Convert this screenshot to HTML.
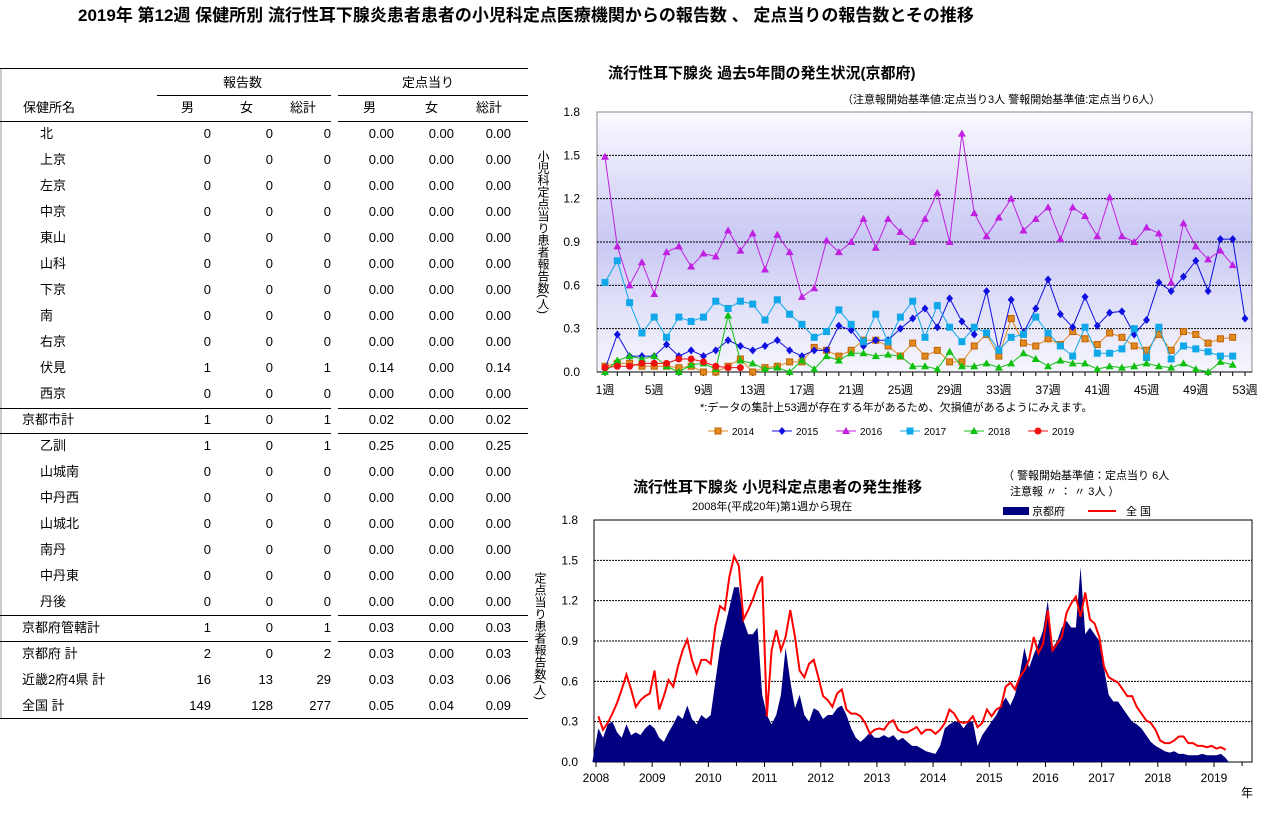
<!DOCTYPE html>
<html><head><meta charset="utf-8">
<style>
body{margin:0;width:1272px;height:823px;background:#fff;position:relative;overflow:hidden;font-family:"Liberation Sans","Noto Sans CJK JP",sans-serif;color:#000}
.t{position:absolute;white-space:nowrap;font-size:13px;line-height:14px}
.r{text-align:right}
.hl{position:absolute;height:1px;background:#000}
svg text{font-family:"Liberation Sans","Noto Sans CJK JP",sans-serif}
</style></head><body>
<div class="t" style="left:78px;top:6px;font-size:17px;line-height:20px;font-weight:bold">2019年 第12週 保健所別 流行性耳下腺炎患者患者の小児科定点医療機関からの報告数 、 定点当りの報告数とその推移</div>

<div id="tbl"></div>

<svg id="top" width="1272" height="823" style="position:absolute;left:0;top:0"></svg>

<script>
const rowNames=["北","上京","左京","中京","東山","山科","下京","南","右京","伏見","西京","京都市計","乙訓","山城南","中丹西","山城北","南丹","中丹東","丹後","京都府管轄計","京都府 計","近畿2府4県 計","全国 計"];
const rowIndent=[1,1,1,1,1,1,1,1,1,1,1,0,1,1,1,1,1,1,1,0,0,0,0];
const rowMale=[0,0,0,0,0,0,0,0,0,1,0,1,1,0,0,0,0,0,0,1,2,16,149];
const rowFemale=[0,0,0,0,0,0,0,0,0,0,0,0,0,0,0,0,0,0,0,0,0,13,128];
const rowTotal=[0,0,0,0,0,0,0,0,0,1,0,1,1,0,0,0,0,0,0,1,2,29,277];
const rowPerM=["0.00","0.00","0.00","0.00","0.00","0.00","0.00","0.00","0.00","0.14","0.00","0.02","0.25","0.00","0.00","0.00","0.00","0.00","0.00","0.03","0.03","0.03","0.05"];
const rowPerF=["0.00","0.00","0.00","0.00","0.00","0.00","0.00","0.00","0.00","0.00","0.00","0.00","0.00","0.00","0.00","0.00","0.00","0.00","0.00","0.00","0.00","0.03","0.04"];
const rowPerT=["0.00","0.00","0.00","0.00","0.00","0.00","0.00","0.00","0.00","0.14","0.00","0.02","0.25","0.00","0.00","0.00","0.00","0.00","0.00","0.03","0.03","0.06","0.09"];
const tbl=document.getElementById('tbl');
function addText(txt,x,y,right,name){
  const d=document.createElement('div');
  d.className='t'+(right?' r':'');
  d.textContent=txt;
  
  
  if(right){d.style.left=(x-80)+'px';d.style.width='80px';}else d.style.left=x+'px';
  d.style.top=(y-7)+'px';
  tbl.appendChild(d);
}
function hline(x1,x2,y,name){
  const d=document.createElement('div');d.className='hl';
  
  
  d.style.left=x1+'px';d.style.width=(x2-x1)+'px';d.style.top=y+'px';tbl.appendChild(d);
}
const lb=document.createElement('div');


lb.style.cssText='position:absolute;left:0;top:68px;width:2px;height:650px;background:#ccc';tbl.appendChild(lb);
hline(0,528,68,'table-top-rule');
hline(157,331,95,'report-group-rule');hline(338,528,95,'per-site-group-rule');
hline(0,331,121,'header-rule-left');hline(338,528,121,'header-rule-right');
hline(0,331,408,'city-rule-top-left');hline(338,528,408,'city-rule-top-right');
hline(0,331,433,'city-rule-bottom-left');hline(338,528,433,'city-rule-bottom-right');
hline(0,331,615,'pref-rule-top-left');hline(338,528,615,'pref-rule-top-right');
hline(0,331,641,'pref-rule-bottom-left');hline(338,528,641,'pref-rule-bottom-right');
hline(0,528,718,'table-bottom-rule');
addText('報告数',223,83,false,'report-count-header');
addText('定点当り',402,83,false,'per-site-header');
addText('保健所名',23,108,false,'health-center-header');
addText('男',181,108,false,'male-header');addText('女',240,108,false,'female-header');addText('総計',290,108,false,'total-header');
addText('男',363,108,false,'per-male-header');addText('女',425,108,false,'per-female-header');addText('総計',476,108,false,'per-total-header');
rowNames.forEach((n,i)=>{
  const y=134+i*26;
  addText(n,rowIndent[i]?40:22,y,false,'row-name');
  addText(String(rowMale[i]),211,y,true,'male-count');
  addText(String(rowFemale[i]),273,y,true,'female-count');
  addText(String(rowTotal[i]),331,y,true,'total-count');
  addText(rowPerM[i],394,y,true,'male-per-site');
  addText(rowPerF[i],454,y,true,'female-per-site');
  addText(rowPerT[i],511,y,true,'total-per-site');
});
</script>

<script>
const yearLabels=["2014","2015","2016","2017","2018","2019"];
const s2014=[0.04,0.06,0.06,0.04,0.04,0.04,0.03,0.04,0,0,0.04,0.09,0,0.03,0.04,0.07,0.07,0.17,0.15,0.11,0.15,0.22,0.22,0.18,0.11,0.20,0.11,0.15,0.07,0.07,0.18,0.26,0.11,0.37,0.20,0.18,0.23,0.19,0.28,0.23,0.19,0.27,0.24,0.18,0.15,0.26,0.15,0.28,0.26,0.20,0.23,0.24];
const s2015=[0.02,0.26,0.11,0.11,0.11,0.19,0.11,0.15,0.11,0.15,0.22,0.18,0.15,0.18,0.22,0.15,0.11,0.15,0.15,0.32,0.29,0.18,0.22,0.22,0.30,0.37,0.44,0.31,0.51,0.35,0.26,0.56,0.15,0.50,0.27,0.44,0.64,0.40,0.31,0.52,0.32,0.41,0.42,0.26,0.36,0.62,0.56,0.66,0.77,0.56,0.92,0.92,0.37];
const s2016=[1.49,0.87,0.60,0.76,0.54,0.83,0.87,0.73,0.82,0.80,0.98,0.84,0.96,0.71,0.95,0.83,0.52,0.58,0.91,0.83,0.90,1.06,0.86,1.06,0.97,0.90,1.06,1.24,0.90,1.65,1.10,0.94,1.07,1.20,0.98,1.06,1.14,0.92,1.14,1.08,0.94,1.21,0.94,0.90,1.00,0.96,0.62,1.03,0.87,0.78,0.84,0.74];
const s2017=[0.62,0.77,0.48,0.27,0.38,0.24,0.38,0.35,0.38,0.49,0.44,0.49,0.47,0.36,0.50,0.40,0.33,0.24,0.28,0.43,0.33,0.21,0.40,0.21,0.38,0.49,0.24,0.46,0.31,0.21,0.31,0.27,0.15,0.24,0.26,0.38,0.27,0.18,0.11,0.31,0.13,0.13,0.16,0.30,0.10,0.31,0.09,0.18,0.16,0.14,0.11,0.11];
const s2018=[0,0.08,0.11,0.09,0.11,0.04,0,0.05,0.06,0.02,0.39,0.08,0.06,0.02,0.03,0,0.08,0.02,0.11,0.08,0.13,0.13,0.11,0.12,0.11,0.04,0.04,0.02,0.14,0.04,0.04,0.06,0.03,0.06,0.13,0.09,0.04,0.08,0.06,0.06,0.02,0.04,0.03,0.04,0.06,0.04,0.03,0.06,0.02,0,0.07,0.05];
const s2019=[0.03,0.04,0.04,0.06,0.06,0.06,0.09,0.09,0.07,0.04,0.03,0.03];
const topYTicks=["0.0","0.3","0.6","0.9","1.2","1.5","1.8"];
const topXTicks=["1週","5週","9週","13週","17週","21週","25週","29週","33週","37週","41週","45週","49週","53週"];

const natl=[0.34,0.24,0.29,0.36,0.44,0.54,0.65,0.54,0.41,0.46,0.49,0.51,
0.68,0.39,0.49,0.61,0.56,0.71,0.83,0.91,0.76,0.66,0.76,0.76,
0.73,1.01,1.16,1.13,1.38,1.53,1.46,1.06,1.13,1.21,1.31,1.38,
0.34,0.83,0.98,0.83,0.93,1.13,0.93,0.68,0.63,0.73,0.76,0.63,
0.49,0.46,0.41,0.51,0.54,0.39,0.36,0.36,0.34,0.29,0.21,0.24,
0.25,0.24,0.29,0.31,0.24,0.22,0.22,0.24,0.26,0.21,0.24,0.24,
0.21,0.24,0.29,0.39,0.36,0.30,0.29,0.30,0.34,0.26,0.29,0.39,
0.34,0.39,0.41,0.56,0.59,0.54,0.63,0.68,0.76,0.93,0.81,0.88,
1.13,0.83,0.88,0.93,1.11,1.18,1.23,1.08,1.26,1.06,1.03,0.93,
0.71,0.63,0.61,0.59,0.54,0.49,0.49,0.41,0.36,0.31,0.29,0.24,
0.16,0.14,0.14,0.16,0.19,0.19,0.14,0.14,0.12,0.12,0.11,0.12,
0.10,0.11,0.09];
const kyoto=[0.25,0.18,0.28,0.30,0.22,0.18,0.28,0.20,0.22,0.20,0.25,0.28,
0.25,0.18,0.15,0.22,0.28,0.35,0.32,0.42,0.32,0.28,0.35,0.32,
0.35,0.60,0.85,1.00,1.15,1.30,1.30,1.05,0.95,0.95,1.00,0.50,
0.35,0.28,0.35,0.50,0.85,0.60,0.40,0.50,0.35,0.30,0.40,0.38,
0.32,0.35,0.35,0.40,0.42,0.35,0.25,0.18,0.15,0.18,0.22,0.18,
0.18,0.20,0.18,0.20,0.16,0.18,0.15,0.12,0.12,0.10,0.08,0.07,
0.06,0.12,0.25,0.28,0.30,0.30,0.25,0.30,0.30,0.12,0.20,0.25,
0.30,0.35,0.42,0.48,0.42,0.50,0.65,0.85,0.70,0.80,0.88,0.98,
1.20,0.85,0.90,1.00,1.05,1.00,1.00,1.45,0.95,1.00,0.95,0.90,
0.70,0.50,0.45,0.45,0.40,0.35,0.30,0.28,0.25,0.20,0.15,0.12,
0.10,0.08,0.07,0.08,0.06,0.06,0.05,0.05,0.05,0.06,0.05,0.05,
0.05,0.06,0.03];
const yearTicks=["2008","2009","2010","2011","2012","2013","2014","2015","2016","2017","2018","2019"];
const botYTicks=["0.0","0.3","0.6","0.9","1.2","1.5","1.8"];
</script>

<script>
const NS='http://www.w3.org/2000/svg';
const svg=document.getElementById('top');
function el(tag,attrs,parent){const e=document.createElementNS(NS,tag);for(const k in attrs)e.setAttribute(k,attrs[k]);(parent||svg).appendChild(e);return e;}
function txt(s,x,y,attrs){const e=el('text',Object.assign({x:x,y:y,'font-size':12},attrs||{}));e.textContent=s;return e;}

const T={l:597,r:1252,t:112,b:372,max:1.8};
const tx=w=>605+(w-1)*(1245-605)/52;
const ty=v=>T.b-(v/T.max)*(T.b-T.t);
const defs=el('defs',{});
const g=el('linearGradient',{id:'bg',x1:0,y1:0,x2:0,y2:1},defs);
[[0,'#fafaff'],[0.35,'#d6d6f8'],[0.5,'#c8c8f4'],[0.7,'#dcdcf8'],[1,'#f6f6fd']].forEach(s=>el('stop',{offset:s[0],'stop-color':s[1]},g));
const tt=txt('流行性耳下腺炎 過去5年間の発生状況(京都府)',608,78,{'font-size':15,'font-weight':'bold'});


const ts=txt('（注意報開始基準値:定点当り3人  警報開始基準値:定点当り6人）',842,103,{'font-size':11});


const pa=el('rect',{x:T.l,y:T.t,width:T.r-T.l,height:T.b-T.t,fill:'url(#bg)',stroke:'#888'});


topYTicks.forEach((s,i)=>{
  const v=parseFloat(s),y=ty(v);
  if(i>0&&i<6){const gl=el('line',{x1:T.l,x2:T.r,y1:y,y2:y,stroke:'#000','stroke-dasharray':'2,1'});
    
    }
  const l=txt(s,580,y+4,{'text-anchor':'end'});
  
  
});
el('line',{x1:T.l,x2:T.r,y1:T.b,y2:T.b,stroke:'#000'});
for(let w=1;w<=53;w++){el('line',{x1:tx(w),x2:tx(w),y1:T.b,y2:T.b+4,stroke:'#000'});}
topXTicks.forEach((s,i)=>{
  const l=txt(s,tx(1+i*4),T.b+22,{'text-anchor':'middle'});
  
  
});
const yt=el('text',{x:543,y:150,'font-size':12,'writing-mode':'tb','glyph-orientation-vertical':0});
yt.textContent='小児科定点当り患者報告数(人)';


const nt=txt('*:データの集計上53週が存在する年があるため、欠損値があるようにみえます。',700,411,{'font-size':11});



const series=[s2014,s2015,s2016,s2017,s2018,s2019];
const colors=['#e08a20','#1010e0','#c020e0','#10a8e8','#10c010','#f01010'];
const shapes=['sq','dia','tri','sq','tri','circ'];
function marker(shape,x,y,c,parent){
  if(shape==='sq')return el('rect',{x:x-3,y:y-3,width:6,height:6,fill:c,stroke:c==='#e08a20'?'#c06000':c},parent);
  if(shape==='dia')return el('path',{d:`M${x},${y-4}L${x+3.5},${y}L${x},${y+4}L${x-3.5},${y}Z`,fill:c},parent);
  if(shape==='tri')return el('path',{d:`M${x},${y-4}L${x+4},${y+3}L${x-4},${y+3}Z`,fill:c},parent);
  return el('circle',{cx:x,cy:y,r:3.5,fill:c},parent);
}
series.forEach((s,k)=>{
  const grp=el('g',{});
  
  
  const pts=s.map((v,i)=>tx(i+1)+','+ty(v)).join(' ');
  const pl=el('polyline',{points:pts,fill:'none',stroke:colors[k],'stroke-width':1},grp);
  
  
  s.forEach((v,i)=>{const m=marker(shapes[k],tx(i+1),ty(v),colors[k],grp);
    
    });
});
yearLabels.forEach((y,k)=>{
  const x=708+k*64;
  const lg=el('g',{});
  
  
  el('line',{x1:x,x2:x+20,y1:431,y2:431,stroke:colors[k]},lg);
  marker(shapes[k],x+10,431,colors[k],lg);
  const t=txt(y,x+24,435,{'font-size':10});lg.appendChild(t);
});

const B={l:594,r:1252,t:520,b:762,max:1.8};
const yr0=596,yrW=(1214-596)/11;
const bx=m=>yr0+(m+0.5)/12*yrW;
const by=v=>B.b-(v/B.max)*(B.b-B.t);
const bt=txt('流行性耳下腺炎 小児科定点患者の発生推移',633,492,{'font-size':15,'font-weight':'bold'});


const bs=txt('2008年(平成20年)第1週から現在',692,510,{'font-size':11});


const bn1=txt('（  警報開始基準値：定点当り 6人',1003,479,{'font-size':11});


const bn2=txt('注意報     〃       ：  〃     3人  ）',1010,495,{'font-size':11});


const l1=el('g',{});


el('rect',{x:1003,y:507,width:26,height:8,fill:'#000080'},l1);
l1.appendChild(txt('京都府',1032,515,{'font-size':11}));
const l2=el('g',{});


el('line',{x1:1088,x2:1116,y1:511,y2:511,stroke:'#f00','stroke-width':2},l2);
l2.appendChild(txt('全  国',1126,515,{'font-size':11}));

const bp=el('rect',{x:B.l,y:B.t,width:B.r-B.l,height:B.b-B.t,fill:'#fff',stroke:'#000'});


botYTicks.forEach((s,i)=>{
  const v=parseFloat(s),y=by(v);
  if(i>0&&i<6){const gl=el('line',{x1:B.l,x2:B.r,y1:y,y2:y,stroke:'#000','stroke-dasharray':'2,1'});
    
    }
  const l=txt(s,578,y+4,{'text-anchor':'end'});
  
  
});
const yt2=el('text',{x:540,y:572,'font-size':12,'writing-mode':'tb','glyph-orientation-vertical':0});
yt2.textContent='定点当り患者報告数(人)';


let d=`M${bx(0)-6},${B.b}`;
kyoto.forEach((v,i)=>{d+=`L${bx(i)},${by(v)}`;});
d+=`L${bx(kyoto.length-1)+3},${B.b}Z`;
const ar=el('path',{d:d,fill:'#000080'});


const nl=el('polyline',{points:natl.map((v,i)=>bx(i)+','+by(v)).join(' '),fill:'none',stroke:'#f00','stroke-width':2});


yearTicks.forEach((s,i)=>{
  const x=yr0+i*yrW;
  el('line',{x1:x,x2:x,y1:B.b,y2:B.b+5,stroke:'#000'});
  el('line',{x1:x+yrW/2,x2:x+yrW/2,y1:B.b,y2:B.b+4,stroke:'#000'});
  const l=txt(s,x,B.b+20,{'text-anchor':'middle'});
  
  
});
const yl=txt('年',1241,797,{'font-size':12});


</script>
</body></html>
